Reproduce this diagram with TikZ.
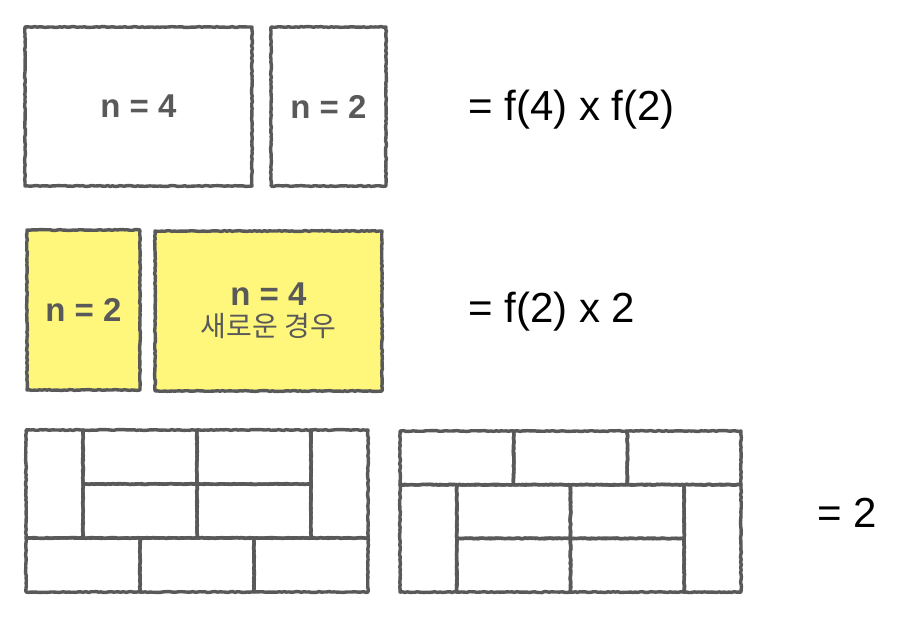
\documentclass[tikz,border=0pt]{standalone}
\usepackage{fontspec}
\setmainfont{Liberation Sans}
\newfontfamily\krfont{Noto Sans CJK KR}
\usetikzlibrary{decorations.pathmorphing}
\definecolor{pencil}{HTML}{595959}
\definecolor{note}{HTML}{FFF77C}
\tikzset{
  sketch/.style={draw=pencil, line width=3.4pt, line join=round,
    decorate, decoration={random steps, segment length=2.5pt, amplitude=0.45pt}},
  box/.style={sketch, rectangle, inner sep=0pt, text=pencil,
    font=\bfseries\fontsize{33}{36}\selectfont, align=center},
  yellowbox/.style={box, fill=note},
  eqtext/.style={anchor=west, inner sep=0pt, text=black,
    font=\fontsize{42}{48}\selectfont},
  tile/.style={sketch}
}
\begin{document}
\begin{tikzpicture}[x=1pt,y=-1pt]
\pgfmathsetseed{7}
\useasboundingbox (0,0) rectangle (902,616);
\fill[white] (0,0) rectangle (902,616);
% row 1
\node[box, minimum width=227pt, minimum height=159pt] (b4) at (138.5,106.5) {n = 4};
\node[box, minimum width=115pt, minimum height=159pt] (b2) at (328.5,106.5) {n = 2};
\node[eqtext] (e1) at (468,110) {= f(4) x f(2)};
% row 2
\node[yellowbox, minimum width=113pt, minimum height=160pt] (y2) at (83.5,310) {n = 2};
\node[yellowbox, minimum width=227pt, minimum height=160pt] (y4) at (268.5,311)
  {n = 4\\[-5pt]{\krfont\mdseries\fontsize{28}{32}\selectfont 새로운 경우}};
\node[eqtext] (e2) at (468,312) {= f(2) x 2};
% row 3, brick 1
\begin{scope}[shift={(26,430)}, x=57pt, y=-54pt]
  \foreach \c/\r/\w/\h in {0/0/1/2, 1/0/2/1, 3/0/2/1, 5/0/1/2, 1/1/2/1, 3/1/2/1, 0/2/2/1, 2/2/2/1, 4/2/2/1}
    \draw[tile] (\c,\r) rectangle ++(\w,\h);
\end{scope}
% row 3, brick 2
\begin{scope}[shift={(400,431)}, x=56.83pt, y=-53.7pt]
  \foreach \c/\r/\w/\h in {0/0/2/1, 2/0/2/1, 4/0/2/1, 0/1/1/2, 1/1/2/1, 3/1/2/1, 5/1/1/2, 1/2/2/1, 3/2/2/1}
    \draw[tile] (\c,\r) rectangle ++(\w,\h);
\end{scope}
\node[eqtext] (e3) at (817,513) {= 2};
\end{tikzpicture}
\end{document}
